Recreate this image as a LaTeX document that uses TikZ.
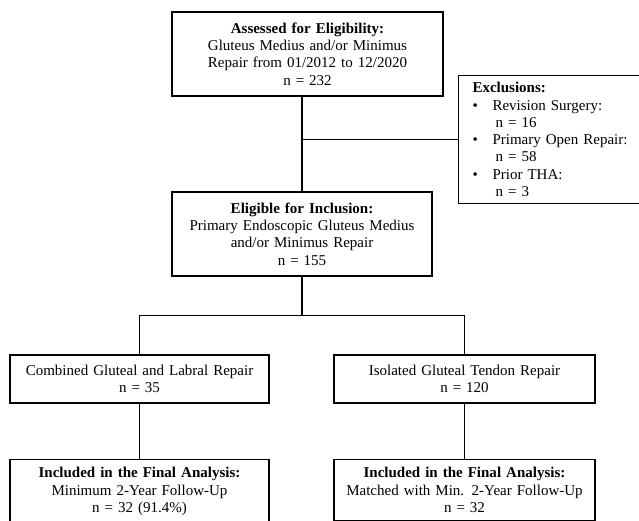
\documentclass[tikz,border=0pt]{standalone}
\usepackage{fontspec}
\setmainfont{Liberation Serif}
\usetikzlibrary{calc}

\tikzset{
	flowbox/.style={draw=black, line width=1.1pt, inner sep=0pt, align=center, font=\fontsize{15}{17.3}\selectfont},
	flowline/.style={black, line width=1.1pt}
}

\begin{document}
\begin{tikzpicture}[x=1pt,y=1pt,yscale=-1,xscale=1]
		% Set diagram to 639 x 521 and cut what lies outside
		\useasboundingbox (0,0) rectangle (639,521);
		\clip (0,0) rectangle (639,521);

		% Box at the top: assessed for eligibility
		\node[flowbox, text width=271pt, minimum height=84pt] (assess) at (307.5,54)
		{\textbf{Assessed for Eligibility:}\\Gluteus Medius and/or Minimus\\Repair from 01/2012 to 12/2020\\n = 232};

		% Box below it: eligible for inclusion
		\node[flowbox, text width=260pt, minimum height=84pt] (elig) at (302,234)
		{\textbf{Eligible for Inclusion:}\\Primary Endoscopic Gluteus Medius\\and/or Minimus Repair\\n = 155};

		% Box at the right: exclusions (runs past the right edge)
		\node[flowbox, anchor=north west, align=left, text width=200pt, minimum height=128pt, inner xsep=14pt] (excl) at (458,75)
		{\textbf{Exclusions:}\\
		\makebox[20pt][l]{\textbullet}Revision Surgery:\\
		\hspace*{23pt}n = 16\\
		\makebox[20pt][l]{\textbullet}Primary Open Repair:\\
		\hspace*{23pt}n = 58\\
		\makebox[20pt][l]{\textbullet}Prior THA:\\
		\hspace*{23pt}n = 3};

		% The two groups
		\node[flowbox, text width=259pt, minimum height=48pt] (comb) at (139.5,379)
		{Combined Gluteal and Labral Repair\\n = 35};
		\node[flowbox, text width=261pt, minimum height=48pt] (iso) at (464.5,379)
		{Isolated Gluteal Tendon Repair\\n = 120};

		% Final analysis boxes (run past the bottom edge)
		\node[flowbox, anchor=north, text width=259pt, inner ysep=8pt] (finalL) at (139.5,459)
		{\textbf{Included in the Final Analysis:}\\Minimum 2-Year Follow-Up\\n = 32 (91.4\%)};
		\node[flowbox, anchor=north, text width=261pt, inner ysep=8pt] (finalR) at (464.5,459)
		{\textbf{Included in the Final Analysis:}\\Matched with Min. 2-Year Follow-Up\\n = 32};

		% Vertical line from the top box, and the branch to the exclusions
		\draw[flowline] (elig.north |- assess.south) -- (elig.north);
		\draw[flowline] (excl.west) -- (excl.west -| elig.north);

		% Split into the two groups
		\coordinate (split) at ($(elig.south)+(0,39)$);
		\draw[flowline] (elig.south) -- (split);
		\draw[flowline] (comb.north) |- (split) -| (iso.north);

		% Lines down to the final analysis
		\draw[flowline] (comb.south) -- (finalL.north);
		\draw[flowline] (iso.south) -- (finalR.north);
	\end{tikzpicture}
\end{document}
